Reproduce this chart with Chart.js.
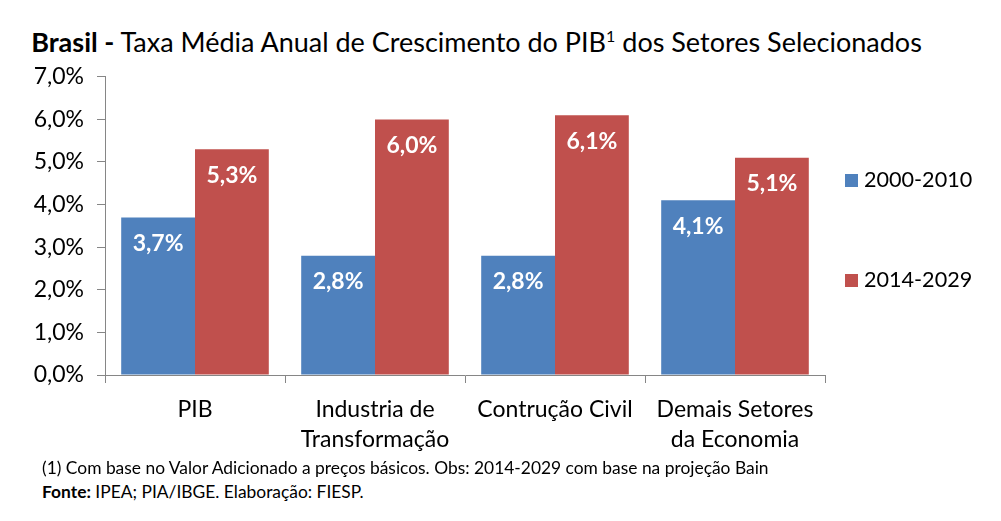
<!DOCTYPE html>
<html>
<head>
<meta charset="utf-8">
<script src="https://cdn.jsdelivr.net/npm/chart.js@4"></script>
<style>
  body { margin: 0; background: #fff; font-family: Lato, "Open Sans", sans-serif; }
  #wrap { position: relative; width: 1001px; height: 521px; }
  #title { position: absolute; left: 0; width: 953px; top: 25px; text-align: center; font-size: 27px; color: #000; white-space: nowrap; }
  #title sup { font-size: 16px; vertical-align: 10px; line-height: 0; }
  #chartBox { position: absolute; left: 0; top: 50px; width: 1001px; height: 410px; }
  .note { position: absolute; left: 42px; font-size: 17.4px; color: #000; white-space: nowrap; }
</style>
</head>
<body>
<div id="wrap">
  <div id="title"><b>Brasil -</b> Taxa Média Anual de Crescimento do PIB<sup>1</sup> dos Setores Selecionados</div>
  <div id="chartBox"><canvas id="chart"></canvas></div>
  <div class="note" style="top:457px">(1) Com base no Valor Adicionado a preços básicos. Obs: 2014-2029 com base na projeção Bain</div>
  <div class="note" style="top:481px"><b>Fonte:</b> IPEA; PIA/IBGE. Elaboração: FIESP.</div>
</div>
<script>
// categories
const categories = [['PIB'], ['Industria de', 'Transformação'], ['Contrução Civil'], ['Demais Setores', 'da Economia']];
// series
const series1Label = '2000-2010';
const series1 = [3.7, 2.8, 2.8, 4.1];
const series2Label = '2014-2029';
const series2 = [5.3, 6.0, 6.1, 5.1];

const fontFam = 'Lato, "Open Sans", sans-serif';

function pct(v) {
  return v.toFixed(1).replace('.', ',') + '%';
}

// white labels inside the top of each bar
const barLabels = {
  id: 'barLabels',
  afterDatasetsDraw(chart) {
    const ctx = chart.ctx;
    ctx.save();
    ctx.fillStyle = '#fff';
    ctx.font = 'bold 23px ' + fontFam;
    ctx.textAlign = 'center';
    ctx.textBaseline = 'middle';
    chart.data.datasets.forEach((ds, i) => {
      chart.getDatasetMeta(i).data.forEach((bar, j) => {
        ctx.fillText(pct(ds.data[j]), bar.x, bar.y + 26);
      });
    });
    ctx.restore();
  }
};

// legend on the right, items spaced apart
const sideLegend = {
  id: 'sideLegend',
  afterDraw(chart) {
    const ctx = chart.ctx;
    const x = chart.chartArea.right + 20;
    ctx.save();
    ctx.font = '21.6px ' + fontFam;
    ctx.textBaseline = 'middle';
    chart.data.datasets.forEach((ds, i) => {
      const y = 130 + i * 100;
      ctx.fillStyle = ds.backgroundColor;
      ctx.fillRect(x, y - 6, 13, 13);
      ctx.fillStyle = '#000';
      ctx.fillText(ds.label, x + 19, y);
    });
    ctx.restore();
  }
};

new Chart(document.getElementById('chart'), {
  type: 'bar',
  data: {
    labels: categories,
    datasets: [
      { label: series1Label, data: series1, backgroundColor: '#4F81BD' },
      { label: series2Label, data: series2, backgroundColor: '#C0504D' }
    ]
  },
  options: {
    responsive: true,
    maintainAspectRatio: false,
    animation: false,
    layout: { padding: { top: 5, right: 176, left: 0, bottom: 0 } },
    datasets: { bar: { categoryPercentage: 0.82, barPercentage: 1.0 } },
    plugins: {
      legend: { display: false },
      tooltip: { enabled: false }
    },
    scales: {
      x: {
        grid: { drawOnChartArea: false, color: '#868686', tickLength: 8 },
        border: { color: '#868686' },
        ticks: { color: '#000', font: { family: fontFam, size: 23, lineHeight: 1.3 }, padding: 12 },
        afterFit(scale) { scale.height = 85; }
      },
      y: {
        min: 0,
        max: 7,
        grid: { drawOnChartArea: false, color: '#868686', tickLength: 8 },
        border: { color: '#868686' },
        ticks: {
          stepSize: 1,
          color: '#000',
          font: { family: fontFam, size: 23 },
          padding: 13,
          callback: v => pct(v)
        },
        afterFit(scale) { scale.width = 105; }
      }
    }
  },
  plugins: [barLabels, sideLegend]
});
</script>
</body>
</html>
